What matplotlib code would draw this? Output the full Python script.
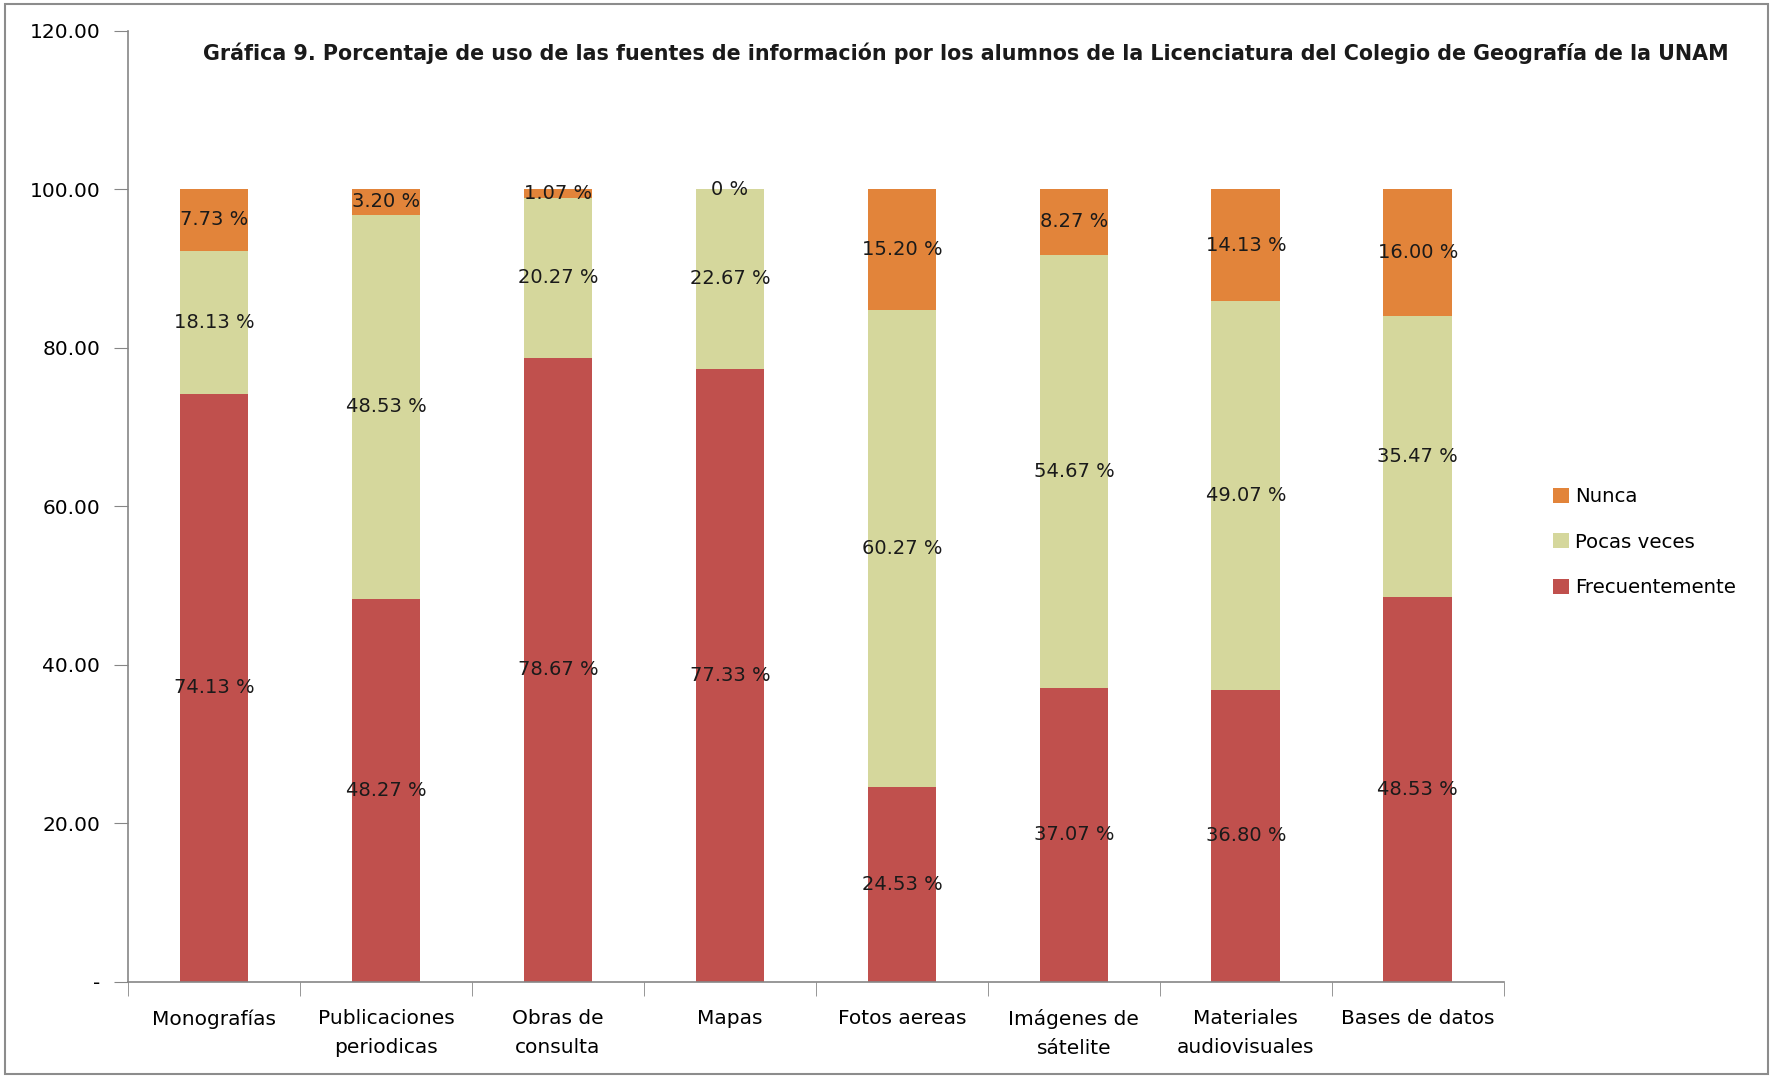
import numpy as np
import matplotlib
matplotlib.use('Agg')
from matplotlib import pyplot as plt
from matplotlib.patches import Rectangle

plt.rcParams['font.family'] = ['DejaVu Sans']

categorias = ['Monografías', 'Publicaciones\nperiodicas', 'Obras de\nconsulta', 'Mapas',
              'Fotos aereas', 'Imágenes de\nsátelite', 'Materiales\naudiovisuales', 'Bases de datos']
frecuentemente = [74.13, 48.27, 78.67, 77.33, 24.53, 37.07, 36.80, 48.53]
pocas_veces = [18.13, 48.53, 20.27, 22.67, 60.27, 54.67, 49.07, 35.47]
nunca = [7.73, 3.20, 1.07, 0.0, 15.20, 8.27, 14.13, 16.00]
yticks = [0, 20, 40, 60, 80, 100, 120]
ytick_labels = ['-', '20.00', '40.00', '60.00', '80.00', '100.00', '120.00']

titulo = ('Gráfica 9. Porcentaje de uso de las fuentes de información por los alumnos '
          'de la Licenciatura del Colegio de Geografía de la UNAM')

col_f = '#C0504D'
col_p = '#D5D79C'
col_n = '#E2843A'

fig = plt.figure(figsize=(17.73, 10.78), dpi=100)
ax = fig.add_axes([0.0722, 0.0895, 0.776, 0.882])

x = np.arange(len(categorias))
w = 0.40
f = np.array(frecuentemente)
p = np.array(pocas_veces)
n = np.array(nunca)

b1 = ax.bar(x, f, w, color=col_f, label='Frecuentemente')
b2 = ax.bar(x, p, w, bottom=f, color=col_p, label='Pocas veces')
b3 = ax.bar(x, n, w, bottom=f + p, color=col_n, label='Nunca')

def etiqueta(v):
    return '0 %' if v == 0 else '%.2f %%' % v

for vals, base in [(f, np.zeros(len(f))), (p, f), (n, f + p)]:
    for i in range(len(vals)):
        ax.text(x[i], base[i] + vals[i] / 2, etiqueta(vals[i]), ha='center', va='center',
                fontsize=14, color='#1a1a1a')

ax.set_xlim(-0.5, len(categorias) - 0.5)
ax.set_ylim(0, 120)
ax.set_yticks(yticks)
ax.set_yticklabels(ytick_labels, fontsize=14.5)
ax.set_xticks(x)
ax.set_xticklabels(categorias, fontsize=14.5, linespacing=1.65)
ax.set_xticks(np.arange(len(categorias) + 1) - 0.5, minor=True)
ax.tick_params(axis='x', which='major', length=0, pad=20)
ax.tick_params(axis='x', which='minor', length=10, color='#868686', direction='out')
ax.tick_params(axis='y', length=10, color='#868686', direction='out', pad=10)

for s in ['top', 'right']:
    ax.spines[s].set_visible(False)
for s in ['left', 'bottom']:
    ax.spines[s].set_color('#868686')
    ax.spines[s].set_linewidth(1.2)

fig.text(0.545, 0.951, titulo, ha='center', va='center', fontsize=14.9, fontweight='bold',
         color='#1a1a1a')

ax.legend([b3, b2, b1], ['Nunca', 'Pocas veces', 'Frecuentemente'],
          loc='center left', bbox_to_anchor=(0.866, 0.497), bbox_transform=fig.transFigure,
          frameon=False, fontsize=14.2, handlelength=0.8, handleheight=0.8,
          handletextpad=0.3, labelspacing=1.35)

fig.patches.append(Rectangle((0.003, 0.004), 0.994, 0.992, transform=fig.transFigure,
                             fill=False, edgecolor='#8c8c8c', linewidth=1.5))

plt.savefig('out.png', dpi=100)
